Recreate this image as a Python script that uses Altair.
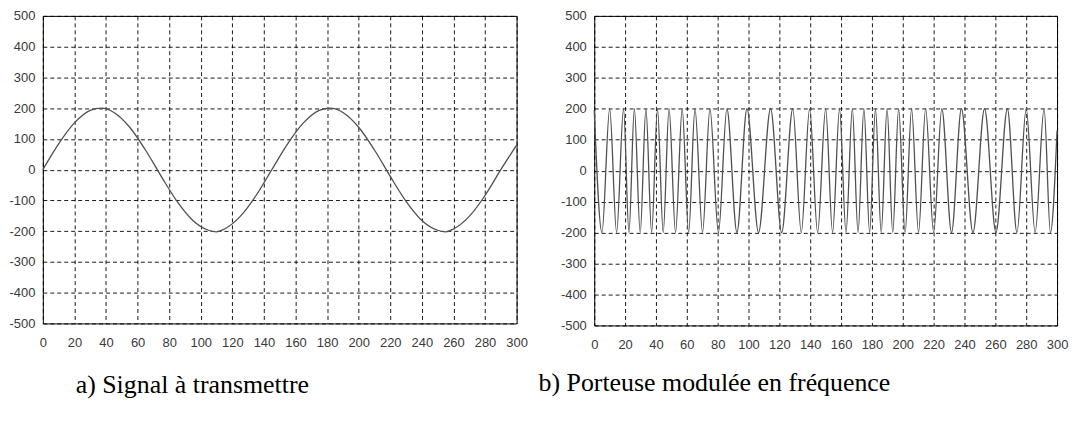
import altair as alt
import pandas as pd

# ---- data ----
# a) message signal
signal_x = [0, 10, 20, 30, 37, 45, 55, 65, 75, 85, 95, 105, 110, 115, 125, 135, 145,
            155, 165, 175, 182, 190, 200, 210, 220, 230, 240, 250, 255, 260, 270, 280, 290, 300]
signal_y = [0, 84, 152, 193, 200, 186, 138, 64, -22, -103, -165, -197, -202, -193, -152, -84, 0,
            84, 152, 193, 200, 186, 138, 64, -22, -103, -165, -197, -202, -193, -152, -84, 0, 80]

# b) frequency-modulated carrier: successive crests and troughs
carrier_x = [0, 5, 10, 14.5, 19, 22.5, 26, 29.8, 33.5, 37.2, 41, 44.7, 48.5, 52.7, 57, 61.2,
             65.3, 70.2, 75, 80.5, 86, 92.5, 99, 106.5, 114.3, 121.5, 128.7, 134.2, 139.6, 144.8,
             150, 154.5, 159, 163.2, 167.3, 171, 174.8, 178.5, 182.3, 186, 189.8, 193.5, 197.3,
             201.5, 205.7, 210.2, 214.8, 220, 225.3, 231.6, 238, 245.5, 253, 260.4, 267.8, 274,
             280, 285.8, 291.6, 295.7, 300]
carrier_y = [195, -200, 200, -200, 200, -200, 200, -200, 200, -200, 200, -200, 200, -200, 200, -200,
             200, -200, 200, -200, 200, -200, 200, -200, 200, -200, 200, -200, 200, -200,
             200, -200, 200, -200, 200, -200, 200, -200, 200, -200, 200, -200, 200,
             -200, 200, -200, 200, -200, 200, -200, 200, -200, 200, -200, 200, -200,
             200, -200, 200, -200, 130]

x_ticks = list(range(0, 301, 20))
y_ticks = list(range(-500, 501, 100))
caption_a = "a) Signal à transmettre"
caption_b = "b) Porteuse modulée en fréquence"

LINE = "#505050"
LABEL_FONT = "Liberation Sans, Arial"
SERIF = "Liberation Serif, Times New Roman, serif"
LABEL_EXPR = "datum.value < 0 ? '-' + abs(datum.value) : '' + datum.value"


def panel(xs, ys, caption, w, h, cap_dx, cap_dy):
    df = pd.DataFrame({"x": xs, "y": ys})
    xenc = alt.X("x:Q", scale=alt.Scale(domain=[0, 300], nice=False, zero=False),
                 axis=alt.Axis(values=x_ticks, title=None, labelPadding=13, labelExpr=LABEL_EXPR,
                               labelOverlap=False, labelFlush=False))
    yenc = alt.Y("y:Q", scale=alt.Scale(domain=[-500, 500], nice=False),
                 axis=alt.Axis(values=y_ticks, title=None, labelPadding=8, labelExpr=LABEL_EXPR,
                               labelOverlap=False, labelFlush=False))
    line = alt.Chart(df).mark_line(color=LINE, strokeWidth=1.3, interpolate="monotone").encode(
        x=xenc, y=yenc)
    cap = alt.Chart(pd.DataFrame({"t": [caption]})).mark_text(
        font=SERIF, fontSize=26, align="left", baseline="middle", color="#000"
    ).encode(text="t:N", x=alt.value(cap_dx), y=alt.value(cap_dy))
    return alt.layer(line, cap).properties(width=w, height=h)


left = panel(signal_x, signal_y, caption_a, 476, 309, 33, 371)
right = panel(carrier_x, carrier_y, caption_b, 465, 311, -56, 369)

chart = alt.hconcat(left, right, spacing=78, bounds="flush").properties(
    padding={"left": 0, "top": 0, "right": 0, "bottom": 0},
    background="white"
).configure_view(
    stroke="#000", strokeWidth=1
).configure_axis(
    grid=True, gridColor="#000", gridDash=[4, 3], gridWidth=1, gridOpacity=0.9,
    domain=False, ticks=False,
    labelFont=LABEL_FONT, labelFontSize=13, labelColor="#3a3a3a"
)

chart.save("out.html", embed_options={"renderer": "svg", "actions": False})
